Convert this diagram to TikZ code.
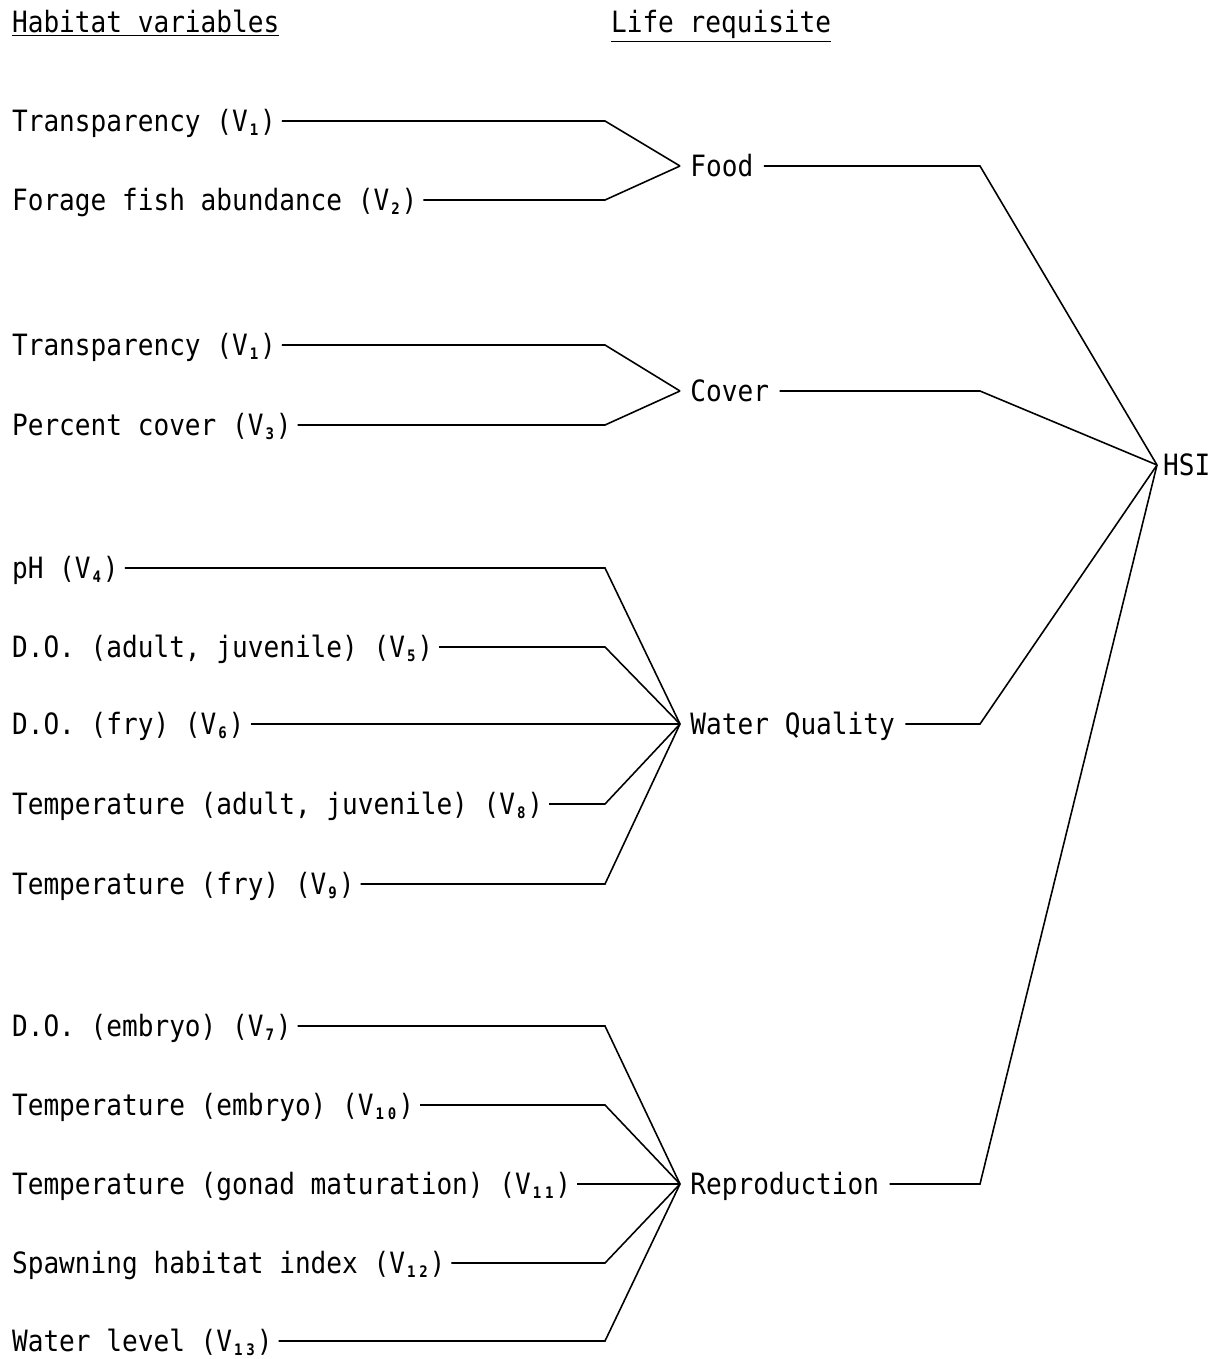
\documentclass[tikz,border=0pt]{standalone}
\usepackage{fontspec}
\setmainfont{DejaVu Sans Mono}[FakeStretch=0.89]
\usepackage{tikz}
\newcommand{\vsub}[1]{\raisebox{-2.3pt}{\makebox[7pt]{\fontsize{9pt}{9pt}\selectfont\bfseries #1}}}

\begin{document}
\begin{tikzpicture}[x=0.02cm,y=-0.02cm,line width=0.9pt,
  lbl/.style={anchor=west,inner sep=3pt,text height=12pt,text depth=0pt,
    font=\fontsize{16.7pt}{20pt}\selectfont},
  req/.style={lbl,inner xsep=5.5pt}]
\useasboundingbox (0,0) rectangle (1215,1359);
%%%% headings
\node[lbl] (hvar) at (6,22) {\underline{Habitat variables}};
\node[lbl] (hreq) at (605,22) {\underline{Life requisite}};
%%%% knees of the connectors
\coordinate (kneeL) at (605,0);
\coordinate (kneeR) at (980,0);
%
\node[lbl] (hsi) at (1157,465) {HSI};
%%%% Food
\node[req] (food) at (680,166) {Food};
\node[lbl] (tra) at (6,121) {Transparency (V\vsub{1})};
\node[lbl] (fish) at (6,200) {Forage fish abundance (V\vsub{2})};
\draw (tra) -- (tra -| kneeL) -- (food.west);
\draw (fish) -- (fish -| kneeL) -- (food.west);
\draw (food) -- (food -| kneeR) -- (hsi.west);
%%%% Cover
\node[req] (cover) at (680,391) {Cover};
\node[lbl] (trb) at (6,345) {Transparency (V\vsub{1})};
\node[lbl] (pcov) at (6,425) {Percent cover (V\vsub{3})};
\draw (trb) -- (trb -| kneeL) -- (cover.west);
\draw (pcov) -- (pcov -| kneeL) -- (cover.west);
\draw (cover) -- (cover -| kneeR) -- (hsi.west);
%%%% Water Quality
\node[req] (wq) at (680,724) {Water Quality};
\node[lbl] (ph) at (6,568) {pH (V\vsub{4})};
\node[lbl] (doa) at (6,647) {D.O. (adult, juvenile) (V\vsub{5})};
\node[lbl] (dof) at (6,724) {D.O. (fry) (V\vsub{6})};
\node[lbl] (tea) at (6,804) {Temperature (adult, juvenile) (V\vsub{8})};
\node[lbl] (tef) at (6,884) {Temperature (fry) (V\vsub{9})};
\draw (ph) -- (ph -| kneeL) -- (wq.west);
\draw (doa) -- (doa -| kneeL) -- (wq.west);
\draw (dof) -- (wq.west);
\draw (tea) -- (tea -| kneeL) -- (wq.west);
\draw (tef) -- (tef -| kneeL) -- (wq.west);
\draw (wq) -- (wq -| kneeR) -- (hsi.west);
%%%% Reproduction
\node[req] (repr) at (680,1184) {Reproduction};
\node[lbl] (doe) at (6,1026) {D.O. (embryo) (V\vsub{7})};
\node[lbl] (tee) at (6,1105) {Temperature (embryo) (V\vsub{1}\vsub{0})};
\node[lbl] (teg) at (6,1184) {Temperature (gonad maturation) (V\vsub{1}\vsub{1})};
\node[lbl] (spw) at (6,1263) {Spawning habitat index (V\vsub{1}\vsub{2})};
\node[lbl] (wlev) at (6,1341) {Water level (V\vsub{1}\vsub{3})};
\draw (doe) -- (doe -| kneeL) -- (repr.west);
\draw (tee) -- (tee -| kneeL) -- (repr.west);
\draw (teg) -- (repr.west);
\draw (spw) -- (spw -| kneeL) -- (repr.west);
\draw (wlev) -- (wlev -| kneeL) -- (repr.west);
\draw (repr) -- (repr -| kneeR) -- (hsi.west);
\end{tikzpicture}
\end{document}
